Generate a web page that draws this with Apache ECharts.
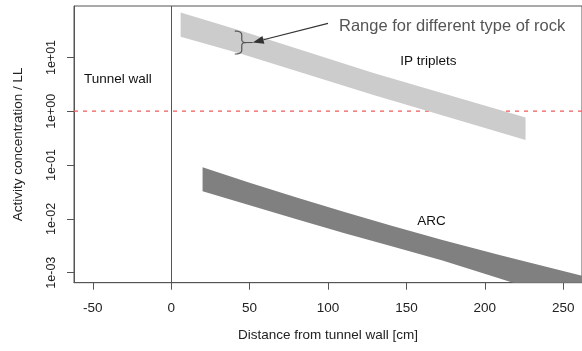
<!DOCTYPE html>
<html><head><meta charset="utf-8">
<script src="https://cdn.jsdelivr.net/npm/echarts@6/dist/echarts.min.js"></script>
<style>html,body{margin:0;padding:0;background:#fff}#c{width:582px;height:351px}</style>
</head><body><div id="c"></div>
<script>
// ---- data ----
const ipX = [6, 45, 129, 226];
const ipUpper = [68.6, 31, 5.15, 0.767];
const ipLower = [24.4, 11.6, 2.0, 0.293];
const arcX = [20, 50, 80, 110, 140, 173, 210, 262];
const arcUpper = [0.091, 0.0471, 0.025, 0.0136, 0.0075, 0.00405, 0.0021, 0.00088];
const arcLower = [0.0326, 0.0179, 0.0098, 0.00546, 0.00312, 0.00168, 0.00077, 0.000254];
const xTicks = [-50, 0, 50, 100, 150, 200, 250];
const yTicks = [0.001, 0.01, 0.1, 1, 10];
const yTickLabels = ['1e-03', '1e-02', '1e-01', '1e+00', '1e+01'];
const refLevel = 1;
const wallX = 0;

const L = Math.log10;
const FONT = '"Liberation Sans", Arial, Helvetica, sans-serif';
const chart = echarts.init(document.getElementById('c'), null, {renderer: 'canvas'});

function clipGroup(params, children) {
  const cs = params.coordSys;
  return {type: 'group', clipPath: {type: 'rect', shape: {x: cs.x, y: cs.y, width: cs.width, height: cs.height}}, children: children};
}

function bandSeries(name, xs, up, lo, color) {
  return {
    type: 'custom', name: name, silent: true, z: 3,
    data: xs.map((x, i) => [x, L(up[i]), L(lo[i])]),
    renderItem: function (params, api) {
      if (params.dataIndex !== 0) return null;
      const top = xs.map((x, i) => api.coord([x, L(up[i])]));
      const bot = xs.map((x, i) => api.coord([x, L(lo[i])])).reverse();
      return clipGroup(params, [{type: 'polygon', shape: {points: top.concat(bot)}, style: {fill: color, stroke: null}}]);
    }
  };
}

// reference lines: dashed horizontal at refLevel, solid vertical at the wall
const refSeries = {
  type: 'custom', silent: true, z: 1,
  data: [[wallX, L(refLevel)]],
  renderItem: function (params, api) {
    const cs = params.coordSys;
    const p = api.coord([api.value(0), api.value(1)]);
    const xx = Math.round(p[0]) + 0.5;
    return clipGroup(params, [
      {type: 'line', shape: {x1: cs.x, y1: p[1] - 0.2, x2: cs.x + cs.width, y2: p[1] - 0.2},
        style: {stroke: '#f05a5a', lineWidth: 1.2, lineDash: [4, 5]}},
      {type: 'line', shape: {x1: xx, y1: cs.y, x2: xx, y2: cs.y + cs.height},
        style: {stroke: '#555', lineWidth: 1}}
    ]);
  }
};

chart.setOption({
  animation: false,
  backgroundColor: '#fff',
  grid: {left: 74, top: 6, width: 518, height: 276.7, show: true, borderColor: '#555', borderWidth: 1, backgroundColor: 'transparent'},
  xAxis: {
    type: 'value', min: -62, max: 262,
    axisLine: {show: true, onZero: false, lineStyle: {color: '#555', width: 1}},
    axisTick: {show: true, customValues: xTicks, length: 7, lineStyle: {color: '#555'}},
    axisLabel: {customValues: xTicks, margin: 19, fontSize: 13.5, color: '#222', fontFamily: FONT},
    splitLine: {show: false},
    name: 'Distance from tunnel wall [cm]', nameLocation: 'middle', nameGap: 46,
    nameTextStyle: {fontSize: 13.5, color: '#222', fontFamily: FONT}
  },
  yAxis: {
    type: 'value', min: -3.186, max: 1.957,
    axisLine: {show: true, onZero: false, lineStyle: {color: '#555', width: 1}},
    axisTick: {show: true, customValues: yTicks.map(L), length: 7, lineStyle: {color: '#555'}},
    axisLabel: {
      customValues: yTicks.map(L), rotate: 90, margin: 16, fontSize: 12.5, color: '#222', fontFamily: FONT,
      formatter: function (v) { const i = yTicks.findIndex(t => Math.abs(L(t) - v) < 1e-6); return i >= 0 ? yTickLabels[i] : ''; }
    },
    splitLine: {show: false},
    name: 'Activity concentration / LL', nameLocation: 'middle', nameGap: 49,
    nameTextStyle: {fontSize: 13.5, color: '#222', fontFamily: FONT}
  },
  series: [
    refSeries,
    bandSeries('IP triplets', ipX, ipUpper, ipLower, '#cccccc'),
    bandSeries('ARC', arcX, arcUpper, arcLower, '#808080')
  ]
});

// ---- annotations placed in data coordinates ----
const P = (x, v) => chart.convertToPixel({gridIndex: 0}, [x, L(v)]);
const notes = [
  {text: 'Tunnel wall', x: -34, v: 4.0, align: 'center', size: 13.5, color: '#111'},
  {text: 'IP triplets', x: 164, v: 8.6, align: 'center', size: 13.5, color: '#111'},
  {text: 'ARC', x: 166, v: 0.0091, align: 'center', size: 13.5, color: '#111'},
  {text: 'Range for different type of rock', x: 107, v: 37, align: 'left', size: 16.5, color: '#555'}
];
const g = notes.map(n => {
  const p = P(n.x, n.v);
  return {type: 'text', x: p[0], y: p[1], z: 10, silent: true,
    style: {text: n.text, fill: n.color, fontSize: n.size, fontFamily: FONT,
      textAlign: n.align, textVerticalAlign: 'middle', align: n.align, verticalAlign: 'middle'}};
});

function quad(p0, c, p1, n) {
  const pts = [];
  for (let i = 0; i <= n; i++) {
    const t = i / n, s = 1 - t;
    pts.push([s * s * p0[0] + 2 * s * t * c[0] + t * t * p1[0], s * s * p0[1] + 2 * s * t * c[1] + t * t * p1[1]]);
  }
  return pts;
}
// brace spanning the IP band at its second sample
const bTop = P(ipX[1], ipUpper[1]), bBot = P(ipX[1], ipLower[1]);
const bx = bTop[0], yt = bTop[1], yb = bBot[1], ym = (yt + yb) / 2;
const brace = [].concat(
  quad([bx - 7, yt], [bx, yt], [bx, yt + 4], 6),
  quad([bx, ym - 3], [bx, ym], [bx + 4, ym], 5),
  quad([bx + 4, ym], [bx, ym], [bx, ym + 3], 5),
  quad([bx, yb - 4], [bx, yb], [bx - 7, yb], 6)
);
g.push({type: 'polyline', z: 10, silent: true, shape: {points: brace}, style: {stroke: '#555', lineWidth: 1.2, fill: null}});

// arrow from the note to the brace
const a0 = P(100, 43), a1 = [bx + 11, ym];
const dx = a0[0] - a1[0], dy = a0[1] - a1[1], len = Math.hypot(dx, dy);
const ux = dx / len, uy = dy / len, hl = 11, hw = 4;
const hb = [a1[0] + ux * hl, a1[1] + uy * hl];
g.push({type: 'line', z: 10, silent: true, shape: {x1: a0[0], y1: a0[1], x2: hb[0], y2: hb[1]}, style: {stroke: '#333', lineWidth: 1.1}});
g.push({type: 'polygon', z: 10, silent: true,
  shape: {points: [a1, [hb[0] - uy * hw, hb[1] + ux * hw], [hb[0] + uy * hw, hb[1] - ux * hw]]},
  style: {fill: '#333'}});
g.push({type: 'line', z: 10, silent: true, shape: {x1: bx + 3, y1: ym, x2: a1[0], y2: ym}, style: {stroke: '#555', lineWidth: 1.1}});
chart.setOption({graphic: g});
</script></body></html>
